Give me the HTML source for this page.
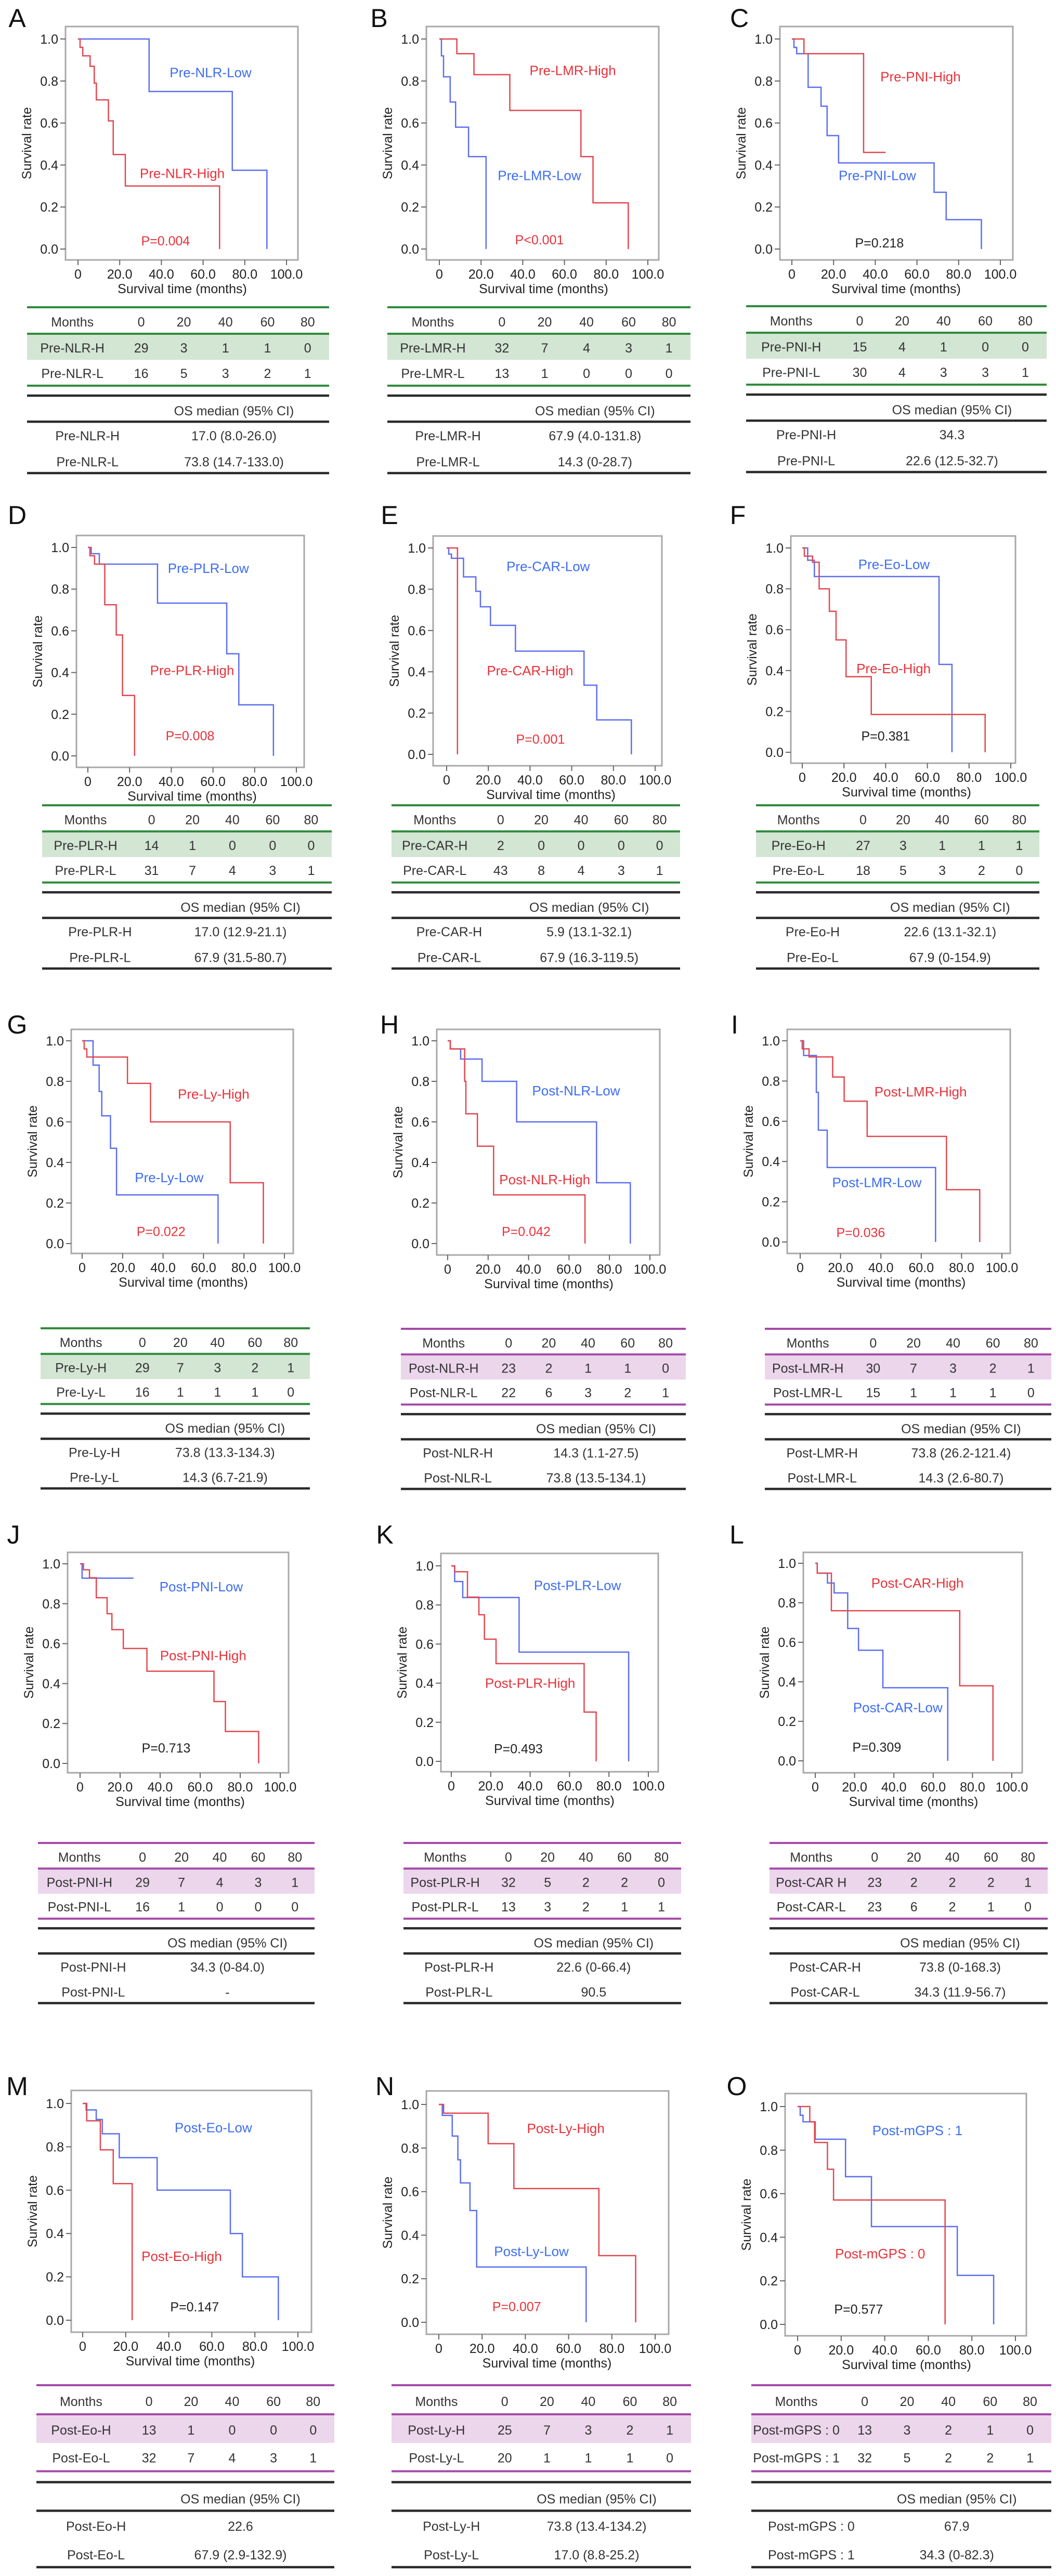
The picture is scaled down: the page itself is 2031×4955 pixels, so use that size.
<!DOCTYPE html>
<html><head><meta charset="utf-8"><title>Kaplan-Meier survival panels</title>
<style>html,body{margin:0;padding:0;background:#fff}svg{display:block}</style></head>
<body>
<svg id="fig" width="2031" height="4955" viewBox="0 0 2031 4955" xmlns="http://www.w3.org/2000/svg" font-family="Liberation Sans, Arial, sans-serif">
<rect x="0" y="0" width="2031" height="4955" fill="#ffffff"/>
</svg>
<script>
// ---------- data ----------
const panelIds = ['A','B','C','D','E','F','G','H','I','J','K','L','M','N','O'];
const xTicks = [0,20,40,60,80,100];
const xTickLabels = ['0','20.0','40.0','60.0','80.0','100.0'];
const yTicks = [0,0.2,0.4,0.6,0.8,1.0];
const yTickLabels = ['0.0','0.2','0.4','0.6','0.8','1.0'];
const riskMonths = ['0','20','40','60','80'];

const highTimes = [
 [1,2.3,5.8,7.8,8.8,14.6,16.9,22.7,67.9],
 [8.4,16.6,33.8,67.9,73.7,90.6],
 [5.8,34.4],
 [1,3.2,8.1,13.6,16.6,22.4],
 [5.2],
 [1,4.9,8.1,13,16.2,21,33.1,87.7],
 [1,2.3,22.4,33.8,73.2,89.6],
 [1.3,8.4,9,14.7,22.7,67.9],
 [1,4.4,16.1,21.8,33.2,72.5,89],
 [1.7,4.7,8.1,13.5,15.9,21.6,33.4,66.9,72.6,89.2],
 [1.7,8.2,14,16.8,22.7,67.4,73.5],
 [1,8.2,73.5,90.4],
 [1.9,8.2,14.2,23],
 [2.2,22.8,34.7,74,91],
 [5.6,7.8,13.7,16.5,67.7]
];
const highSurv = [
 [.96,.92,.87,.79,.71,.61,.45,.30,0],
 [.93,.83,.66,.44,.22,0],
 [.93,.46],
 [.96,.92,.725,.58,.29,0],
 [0],
 [.96,.93,.80,.69,.55,.37,.185,0],
 [.96,.92,.79,.60,.30,0],
 [.96,.80,.64,.48,.24,0],
 [.96,.92,.82,.70,.525,.26,0],
 [.97,.93,.83,.75,.67,.576,.462,.31,.16,0],
 [.97,.84,.75,.625,.50,.252,0],
 [.95,.76,.38,0],
 [.92,.786,.63,0],
 [.96,.82,.614,.306,0],
 [.93,.835,.712,.571,0]
];
const highEnd = [null,null,45,null,null,null,null,null,null,null,null,null,null,null,null];
const lowTimes = [
 [34.1,74,90.6],
 [1,2,5.2,7.8,14,22.4],
 [1,2.3,7.8,14,16.9,22.4,68.2,74,90.9],
 [1.6,5.5,33.4,66.6,72.4,89],
 [1,2.3,8.1,14,16.2,21,33,65.9,72,88.6],
 [2.6,5.8,65.6,71.8],
 [5.4,8.4,9.7,14,17,67.2],
 [1.3,6.4,17,34.1,73.6,90.3],
 [1.7,8,9,13.4,67.1],
 [1],
 [1.7,5.8,34.4,90],
 [1,6.2,9.6,16.5,22,34.4,67.4],
 [1.6,6.3,9.1,17,34.6,68.6,74.2,90.9],
 [1.6,6.2,8.8,10,14.4,17.5,68.1],
 [1.2,2.5,8.1,22,33.9,73.3,90]
];
const lowSurv = [
 [.75,.375,0],
 [.92,.82,.70,.58,.44,0],
 [.96,.93,.77,.68,.54,.41,.27,.14,0],
 [.97,.92,.733,.49,.245,0],
 [.97,.95,.86,.79,.715,.625,.50,.335,.167,0],
 [.94,.86,.43,0],
 [.88,.75,.63,.47,.24,0],
 [.96,.91,.80,.60,.30,0],
 [.927,.744,.556,.37,0],
 [.928],
 [.92,.838,.559,0],
 [.95,.90,.85,.67,.56,.37,0],
 [.97,.926,.86,.75,.60,.40,.20,0],
 [.95,.855,.746,.64,.513,.254,0],
 [.96,.93,.85,.678,.449,.225,0]
];
const lowEnd = [null,null,null,null,null,null,null,null,null,26.7,null,null,null,null,null];

const highNames = ['Pre-NLR-High','Pre-LMR-High','Pre-PNI-High','Pre-PLR-High','Pre-CAR-High','Pre-Eo-High','Pre-Ly-High','Post-NLR-High','Post-LMR-High','Post-PNI-High','Post-PLR-High','Post-CAR-High','Post-Eo-High','Post-Ly-High','Post-mGPS : 0'];
const lowNames = ['Pre-NLR-Low','Pre-LMR-Low','Pre-PNI-Low','Pre-PLR-Low','Pre-CAR-Low','Pre-Eo-Low','Pre-Ly-Low','Post-NLR-Low','Post-LMR-Low','Post-PNI-Low','Post-PLR-Low','Post-CAR-Low','Post-Eo-Low','Post-Ly-Low','Post-mGPS : 1'];
const pValues = ['P=0.004','P<0.001','P=0.218','P=0.008','P=0.001','P=0.381','P=0.022','P=0.042','P=0.036','P=0.713','P=0.493','P=0.309','P=0.147','P=0.007','P=0.577'];
const pSignificant = [true,true,false,true,true,false,true,true,true,false,false,false,false,true,false];

const rowNameH = ['Pre-NLR-H','Pre-LMR-H','Pre-PNI-H','Pre-PLR-H','Pre-CAR-H','Pre-Eo-H','Pre-Ly-H','Post-NLR-H','Post-LMR-H','Post-PNI-H','Post-PLR-H','Post-CAR H','Post-Eo-H','Post-Ly-H','Post-mGPS : 0'];
const rowNameL = ['Pre-NLR-L','Pre-LMR-L','Pre-PNI-L','Pre-PLR-L','Pre-CAR-L','Pre-Eo-L','Pre-Ly-L','Post-NLR-L','Post-LMR-L','Post-PNI-L','Post-PLR-L','Post-CAR-L','Post-Eo-L','Post-Ly-L','Post-mGPS : 1'];
const osNameH = ['Pre-NLR-H','Pre-LMR-H','Pre-PNI-H','Pre-PLR-H','Pre-CAR-H','Pre-Eo-H','Pre-Ly-H','Post-NLR-H','Post-LMR-H','Post-PNI-H','Post-PLR-H','Post-CAR-H','Post-Eo-H','Post-Ly-H','Post-mGPS : 0'];
const riskHigh = [[29,3,1,1,0],[32,7,4,3,1],[15,4,1,0,0],[14,1,0,0,0],[2,0,0,0,0],[27,3,1,1,1],[29,7,3,2,1],[23,2,1,1,0],[30,7,3,2,1],[29,7,4,3,1],[32,5,2,2,0],[23,2,2,2,1],[13,1,0,0,0],[25,7,3,2,1],[13,3,2,1,0]];
const riskLow = [[16,5,3,2,1],[13,1,0,0,0],[30,4,3,3,1],[31,7,4,3,1],[43,8,4,3,1],[18,5,3,2,0],[16,1,1,1,0],[22,6,3,2,1],[15,1,1,1,0],[16,1,0,0,0],[13,3,2,1,1],[23,6,2,1,0],[32,7,4,3,1],[20,1,1,1,0],[32,5,2,2,1]];
const medianHigh = ['17.0 (8.0-26.0)','67.9 (4.0-131.8)','34.3','17.0 (12.9-21.1)','5.9 (13.1-32.1)','22.6 (13.1-32.1)','73.8 (13.3-134.3)','14.3 (1.1-27.5)','73.8 (26.2-121.4)','34.3 (0-84.0)','22.6 (0-66.4)','73.8 (0-168.3)','22.6','73.8 (13.4-134.2)','67.9'];
const medianLow = ['73.8 (14.7-133.0)','14.3 (0-28.7)','22.6 (12.5-32.7)','67.9 (31.5-80.7)','67.9 (16.3-119.5)','67.9 (0-154.9)','14.3 (6.7-21.9)','73.8 (13.5-134.1)','14.3 (2.6-80.7)','-','90.5','34.3 (11.9-56.7)','67.9 (2.9-132.9)','17.0 (8.8-25.2)','34.3 (0-82.3)'];

// ---------- layout (pixel geometry, not data) ----------
const layout = [
 {box:[126,51,573,500], ax:[150,551,75,479], tb:[52,633,591,910], lt:[33,35], hiL:[50,.36], loL:[63.6,.84], pL:[42,.04]},
 {box:[820,51,1267,500], ax:[845,1246,75,479], tb:[745,1328,591,910], lt:[729,35], hiL:[64,.85], loL:[48,.35], pL:[48,.045]},
 {box:[1500,51,1948,500], ax:[1523,1924,75,479], tb:[1435,2013,589,908], lt:[1422,35], hiL:[61.7,.82], loL:[41,.35], pL:[42,.03]},
 {box:[147,1030,585,1476], ax:[169,570,1053,1454], tb:[81,638,1549,1863], lt:[33,991], hiL:[50,.41], loL:[57.8,.9], pL:[49,.097]},
 {box:[833,1031,1273,1473], ax:[859,1260,1054,1451], tb:[753,1308,1549,1863], lt:[749,991], hiL:[40,.405], loL:[48.7,.91], pL:[45,.074]},
 {box:[1521,1031,1953,1468], ax:[1543,1944,1054,1447], tb:[1454,1999,1549,1863], lt:[1419,991], hiL:[43.8,.41], loL:[44,.92], pL:[40,.08]},
 {box:[137,1980,564,2411], ax:[158,547,2002,2392], tb:[78,596,2555,2863], lt:[33,1971], hiL:[65,.737], loL:[43,.326], pL:[39,.06]},
 {box:[840,1980,1269,2414], ax:[861,1250,2002,2392], tb:[771,1319,2556,2864], lt:[749,1971], hiL:[48,.315], loL:[63.5,.754], pL:[38.8,.06]},
 {box:[1514,1980,1943,2411], ax:[1539,1927,2002,2389], tb:[1471,2022,2556,2864], lt:[1413,1971], hiL:[59.7,.747], loL:[38,.296], pL:[30,.048]},
 {box:[130,2986,555,3410], ax:[154,539,3008,3392], tb:[73,605,3545,3853], lt:[26,2952], hiL:[61.5,.54], loL:[60.5,.886], pL:[43,.078]},
 {box:[848,2988,1266,3408], ax:[868,1247,3012,3388], tb:[776,1310,3545,3853], lt:[740,2952], hiL:[40,.40], loL:[64,.90], pL:[34,.065]},
 {box:[1545,2986,1966,3410], ax:[1568,1946,3007,3387], tb:[1480,2015,3545,3853], lt:[1417,2952], hiL:[52,.90], loL:[42,.27], pL:[31.3,.07]},
 {box:[137,4021,599,4486], ax:[159,573,4046,4463], tb:[70,643,4588,4938], lt:[33,4013], hiL:[46,.295], loL:[60.7,.888], pL:[52,.062]},
 {box:[820,4022,1286,4490], ax:[844,1260,4048,4467], tb:[753,1329,4588,4938], lt:[740,4013], hiL:[58.7,.89], loL:[42.8,.326], pL:[36,.073]},
 {box:[1510,4027,1974,4493], ax:[1534,1953,4052,4471], tb:[1445,2022,4588,4938], lt:[1417,4013], hiL:[37.9,.325], loL:[55,.89], pL:[28,.07]}
];

const RED = '#e8323a', BLUE = '#3d6df2', RED_LINE = '#e2474f', BLUE_LINE = '#5a6ef0';
const NS = 'http://www.w3.org/2000/svg';
const svg = document.getElementById('fig');

function mk(tag, parent) { const e = document.createElementNS(NS, tag); parent.appendChild(e); return e; }
function txt(parent, x, y, s, size, anchor, fill) {
  const t = mk('text', parent);
  t.setAttribute('x', x); t.setAttribute('y', y);
  t.setAttribute('font-size', size); t.setAttribute('text-anchor', anchor);
  t.setAttribute('fill', fill);
  t.textContent = s;
  return t;
}
function line(parent, x1, y1, x2, y2, stroke, w) {
  const l = mk('line', parent);
  l.setAttribute('x1', x1); l.setAttribute('y1', y1); l.setAttribute('x2', x2); l.setAttribute('y2', y2);
  l.setAttribute('stroke', stroke); l.setAttribute('stroke-width', w);
  return l;
}
function stepPath(times, surv, end, xs, ys) {
  let d = 'M' + xs(0) + ',' + ys(1);
  let prev = 1;
  for (let k = 0; k < times.length; k++) {
    d += ' L' + xs(times[k]) + ',' + ys(prev) + ' L' + xs(times[k]) + ',' + ys(surv[k]);
    prev = surv[k];
  }
  if (end !== null) d += ' L' + xs(end) + ',' + ys(prev);
  return d;
}

panelIds.forEach((id, i) => {
  const L = layout[i];
  const [bx1, by1, bx2, by2] = L.box;
  const [x0, x100, yOne, yZero] = L.ax;
  const xs = t => x0 + t / 100 * (x100 - x0);
  const ys = s => yZero - s * (yZero - yOne);
  const lc = id.toLowerCase();

  const g = mk('g', svg);
  
  

  const letter = txt(g, L.lt[0], L.lt[1] + 17, id, 50, 'middle', '#111');
  
  

  const frame = mk('rect', g);
  frame.setAttribute('x', bx1); frame.setAttribute('y', by1);
  frame.setAttribute('width', bx2 - bx1); frame.setAttribute('height', by2 - by1);
  frame.setAttribute('fill', 'none'); frame.setAttribute('stroke', '#a8a8a8'); frame.setAttribute('stroke-width', 3);
  
  

  xTicks.forEach((v, k) => {
    const tk = line(g, xs(v), by2, xs(v), by2 + 10, '#666', 2);
    
    
    const tl = txt(g, xs(v), by2 + 36, xTickLabels[k], 25, 'middle', '#222');
    
    
  });
  yTicks.forEach((v, k) => {
    const tk = line(g, bx1 - 10, ys(v), bx1, ys(v), '#666', 2);
    
    
    const tl = txt(g, bx1 - 14, ys(v) + 9, yTickLabels[k], 25, 'end', '#222');
    
    
  });
  const xt = txt(g, (x0 + x100) / 2, by2 + 64, 'Survival time (months)', 25, 'middle', '#222');
  
  
  const cy = (by1 + by2) / 2;
  const yt = txt(g, bx1 - 66, cy, 'Survival rate', 25, 'middle', '#222');
  yt.setAttribute('transform', 'rotate(-90 ' + (bx1 - 66) + ' ' + cy + ')');
  
  

  const pl = mk('path', g);
  pl.setAttribute('d', stepPath(lowTimes[i], lowSurv[i], lowEnd[i], xs, ys));
  pl.setAttribute('fill', 'none'); pl.setAttribute('stroke', BLUE_LINE); pl.setAttribute('stroke-width', 2.5);
  
  
  const ph = mk('path', g);
  ph.setAttribute('d', stepPath(highTimes[i], highSurv[i], highEnd[i], xs, ys));
  ph.setAttribute('fill', 'none'); ph.setAttribute('stroke', RED_LINE); ph.setAttribute('stroke-width', 2.5);
  
  

  const hl = txt(g, xs(L.hiL[0]), ys(L.hiL[1]) + 9, highNames[i], 26, 'middle', RED);
  
  
  const ll = txt(g, xs(L.loL[0]), ys(L.loL[1]) + 9, lowNames[i], 26, 'middle', BLUE);
  
  
  const pv = txt(g, xs(L.pL[0]), ys(L.pL[1]) + 9, pValues[i], 25, 'middle', pSignificant[i] ? RED : '#222');
  
  

  // ---- tables ----
  const [tl, tr, tt, tbm] = L.tb;
  const W = tr - tl, H = tbm - tt;
  const post = i >= 7;
  const accent = post ? '#a54aa8' : '#2f8a3c';
  const shade = post ? '#ecd6ec' : '#d3e5d3';
  const fy = f => tt + f * H;
  const colX = [0.15, 0.378, 0.519, 0.657, 0.796, 0.929].map(f => tl + f * W);

  const tg = mk('g', g);
  
  
  const sh = mk('rect', tg);
  sh.setAttribute('x', tl); sh.setAttribute('y', fy(0.166)); sh.setAttribute('width', W); sh.setAttribute('height', fy(0.317) - fy(0.166));
  sh.setAttribute('fill', shade);
  
  
  [0, 0.16, 0.473].forEach(f => {
    const r = line(tg, tl, fy(f), tr, fy(f), accent, 4);
    
    
  });
  const hdr = txt(tg, colX[0], fy(0.088) + 9, 'Months', 25, 'middle', '#333');
  
  
  riskMonths.forEach((m, k) => {
    const c = txt(tg, colX[k + 1], fy(0.088) + 9, m, 25, 'middle', '#333');
    
    
  });
  const rh = txt(tg, colX[0], fy(0.245) + 9, rowNameH[i], 25, 'middle', '#333');
  
  
  const rl = txt(tg, colX[0], fy(0.398) + 9, rowNameL[i], 25, 'middle', '#333');
  
  
  riskHigh[i].forEach((v, k) => {
    const c = txt(tg, colX[k + 1], fy(0.245) + 9, String(v), 25, 'middle', '#333');
    
    
  });
  riskLow[i].forEach((v, k) => {
    const c = txt(tg, colX[k + 1], fy(0.398) + 9, String(v), 25, 'middle', '#333');
    
    
  });

  const og = mk('g', g);
  
  
  [0.533, 0.69, 1].forEach(f => {
    const r = line(og, tl, fy(f), tr, fy(f), '#2a2a2a', 4.5);
    
    
  });
  const oh = txt(og, tl + 0.685 * W, fy(0.624) + 9, 'OS median (95% CI)', 25, 'middle', '#333');
  
  
  const o1 = txt(og, tl + 0.2 * W, fy(0.774) + 9, osNameH[i], 25, 'middle', '#333');
  
  
  const o2 = txt(og, tl + 0.2 * W, fy(0.931) + 9, rowNameL[i], 25, 'middle', '#333');
  
  
  const v1 = txt(og, tl + 0.685 * W, fy(0.774) + 9, medianHigh[i], 25, 'middle', '#333');
  
  
  const v2 = txt(og, tl + 0.685 * W, fy(0.931) + 9, medianLow[i], 25, 'middle', '#333');
  
  
});
</script>
</body></html>
